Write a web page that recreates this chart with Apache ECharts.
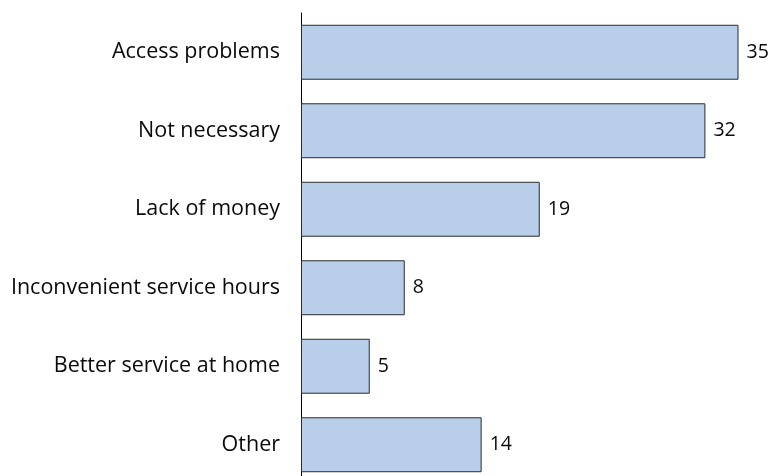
<!DOCTYPE html>
<html><head><meta charset="utf-8">
<script src="https://cdn.jsdelivr.net/npm/echarts@6/dist/echarts.min.js"></script>
<style>html,body{margin:0;padding:0;background:#fff;overflow:hidden}#c{width:771px;height:490px}</style>
</head><body><div id="c"></div>
<script>
const categories = ["Access problems","Not necessary","Lack of money","Inconvenient service hours","Better service at home","Other"];
// bar lengths
const values = [35, 32.35, 19.1, 8.3, 5.5, 14.45];
// numbers printed beside the bars
const valueLabels = ["35","32","19","8","5","14"];
const FONT = "'Open Sans'";
const chart = echarts.init(document.getElementById('c'), null, {renderer:'canvas'});
chart.setOption({
  animation:false,
  grid:{left:301, top:13, width:437.5, height:471, containLabel:false},
  xAxis:{type:'value', min:0, max:35, show:false, splitLine:{show:false}},
  yAxis:{type:'category', inverse:true, data:categories,
    axisLine:{show:true, lineStyle:{color:'#000', width:1}},
    axisTick:{show:false},
    axisLabel:{color:'#0a0a0a', fontFamily:FONT, fontSize:21.5, margin:21}},
  series:[{type:'bar', data:values, barWidth:'70%',
    itemStyle:{color:'#b9cfe9', borderColor:'#2b2b2b', borderWidth:1},
    label:{show:true, position:'right', distance:8, color:'#0a0a0a', fontFamily:FONT, fontSize:19.5,
      formatter:p=>valueLabels[p.dataIndex]}}]
});
</script></body></html>
